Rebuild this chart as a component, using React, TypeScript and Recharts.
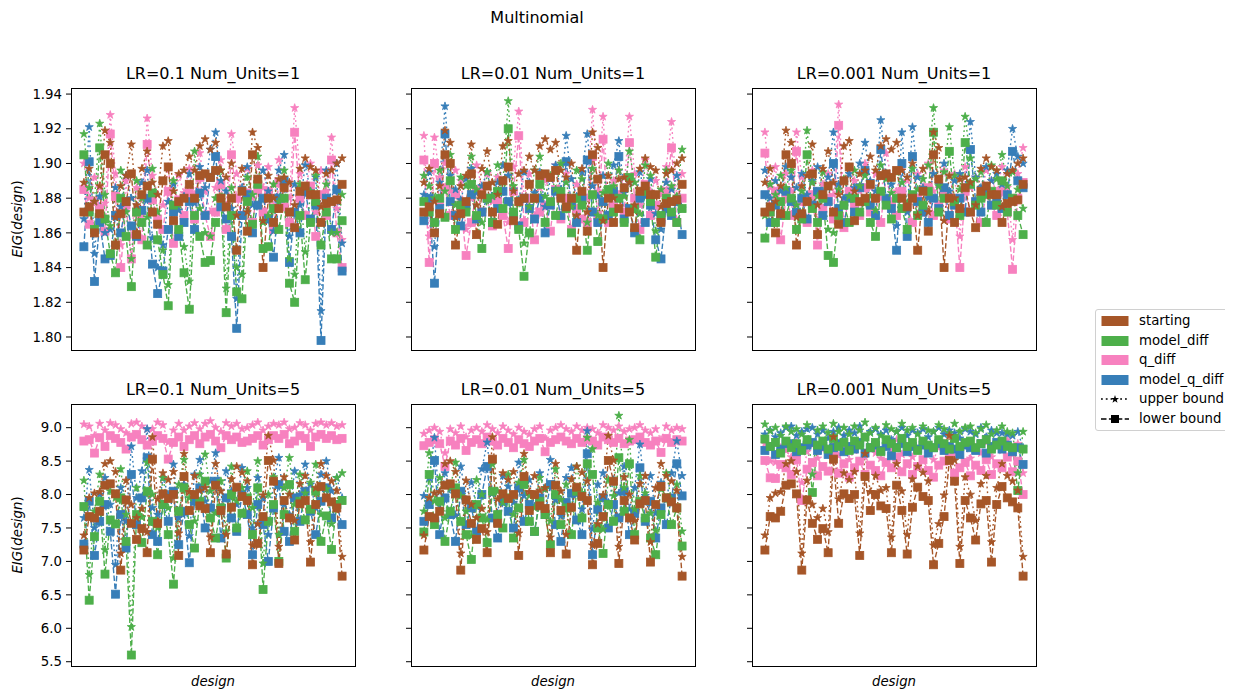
import React from "react"
import { LineChart, Line, XAxis, YAxis } from "recharts"

// design index 0..49
const designs = [
  0, 1, 2, 3, 4, 5, 6, 7, 8, 9, 10, 11, 12, 13, 14, 15, 16, 17, 18, 19, 20, 21, 22, 23, 24,
  25, 26, 27, 28, 29, 30, 31, 32, 33, 34, 35, 36, 37, 38, 39, 40, 41, 42, 43, 44, 45, 46, 47, 48, 49,
]

const methods = ["starting", "model_diff", "q_diff", "model_q_diff"]
const drawOrder = ["q_diff", "model_q_diff", "model_diff", "starting"]
const colors: Record<string, string> = {
  starting: "#a65628",
  model_diff: "#4daf4a",
  q_diff: "#f781bf",
  model_q_diff: "#377eb8",
}

// ---- Num_Units=1 row ----
const startLo1 = [
  1.872, 1.875, 1.860, 1.871, 1.905, 1.900, 1.853, 1.871, 1.878, 1.894,
  1.859, 1.882, 1.887, 1.872, 1.865, 1.890, 1.898, 1.867, 1.878, 1.880,
  1.888, 1.880, 1.893, 1.894, 1.892, 1.896, 1.880, 1.875, 1.880, 1.850,
  1.884, 1.861, 1.905, 1.891, 1.840, 1.880, 1.866, 1.874, 1.886, 1.872,
  1.863, 1.884, 1.887, 1.882, 1.882, 1.866, 1.877, 1.878, 1.879, 1.888,
]
const startHi1 = [
  1.889, 1.897, 1.878, 1.887, 1.919, 1.912, 1.869, 1.887, 1.893, 1.911,
  1.876, 1.897, 1.907, 1.889, 1.882, 1.910, 1.913, 1.884, 1.894, 1.896,
  1.904, 1.896, 1.910, 1.914, 1.908, 1.912, 1.896, 1.892, 1.900, 1.870,
  1.897, 1.872, 1.918, 1.909, 1.867, 1.893, 1.880, 1.891, 1.892, 1.889,
  1.876, 1.897, 1.903, 1.898, 1.896, 1.875, 1.894, 1.896, 1.900, 1.903,
]

// LR=0.1
const tlMdLo = [
  1.905, 1.872, 1.862, 1.909, 1.868, 1.848, 1.837, 1.880, 1.858, 1.829,
  1.872, 1.866, 1.853, 1.883, 1.856, 1.836, 1.818, 1.876, 1.862, 1.837,
  1.816, 1.870, 1.858, 1.843, 1.844, 1.866, 1.880, 1.814, 1.870, 1.826,
  1.822, 1.878, 1.865, 1.888, 1.851, 1.852, 1.874, 1.862, 1.880, 1.831,
  1.820, 1.870, 1.833, 1.866, 1.878, 1.853, 1.872, 1.845, 1.845, 1.867,
]
const tlMdHi = [
  1.917, 1.886, 1.878, 1.923, 1.882, 1.864, 1.852, 1.896, 1.872, 1.845,
  1.890, 1.880, 1.869, 1.897, 1.872, 1.850, 1.830, 1.890, 1.876, 1.852,
  1.832, 1.907, 1.874, 1.860, 1.858, 1.880, 1.896, 1.828, 1.886, 1.840,
  1.836, 1.892, 1.882, 1.904, 1.866, 1.870, 1.888, 1.878, 1.896, 1.845,
  1.836, 1.888, 1.849, 1.884, 1.893, 1.866, 1.888, 1.860, 1.860, 1.882,
]
const tlQdLo = [
  1.885, 1.865, 1.878, 1.874, 1.861, 1.917, 1.881, 1.840, 1.876, 1.845,
  1.872, 1.856, 1.911, 1.879, 1.868, 1.862, 1.884, 1.854, 1.879, 1.870,
  1.883, 1.868, 1.892, 1.870, 1.858, 1.872, 1.888, 1.862, 1.905, 1.880,
  1.870, 1.883, 1.866, 1.885, 1.872, 1.884, 1.862, 1.889, 1.875, 1.866,
  1.918, 1.880, 1.870, 1.887, 1.858, 1.882, 1.870, 1.902, 1.860, 1.840,
]
const tlQdHi = [
  1.900, 1.880, 1.892, 1.886, 1.877, 1.928, 1.894, 1.853, 1.890, 1.858,
  1.886, 1.870, 1.926, 1.893, 1.882, 1.876, 1.898, 1.868, 1.893, 1.883,
  1.897, 1.882, 1.906, 1.884, 1.872, 1.886, 1.902, 1.876, 1.917, 1.894,
  1.884, 1.897, 1.880, 1.899, 1.886, 1.898, 1.876, 1.902, 1.889, 1.880,
  1.932, 1.894, 1.884, 1.900, 1.872, 1.896, 1.884, 1.915, 1.874, 1.856,
]
const tlMqLo = [
  1.852, 1.901, 1.832, 1.866, 1.845, 1.847, 1.870, 1.860, 1.878, 1.864,
  1.858, 1.873, 1.880, 1.842, 1.825, 1.838, 1.862, 1.872, 1.858, 1.866,
  1.878, 1.862, 1.883, 1.870, 1.892, 1.904, 1.875, 1.868, 1.858, 1.805,
  1.870, 1.882, 1.860, 1.876, 1.880, 1.868, 1.846, 1.880, 1.890, 1.843,
  1.872, 1.860, 1.884, 1.868, 1.876, 1.798, 1.880, 1.862, 1.885, 1.838,
]
const tlMqHi = [
  1.868, 1.921, 1.848, 1.881, 1.860, 1.862, 1.886, 1.875, 1.893, 1.880,
  1.873, 1.889, 1.896, 1.857, 1.840, 1.853, 1.878, 1.888, 1.873, 1.881,
  1.894, 1.877, 1.898, 1.886, 1.908, 1.918, 1.890, 1.884, 1.874, 1.822,
  1.886, 1.898, 1.876, 1.891, 1.896, 1.884, 1.861, 1.896, 1.905, 1.858,
  1.888, 1.876, 1.899, 1.884, 1.892, 1.815, 1.896, 1.878, 1.900, 1.854,
]

// LR=0.01
const tmMdLo = [
  1.878, 1.872, 1.866, 1.880, 1.869, 1.890, 1.862, 1.876, 1.872, 1.888,
  1.870, 1.851, 1.880, 1.866, 1.884, 1.874, 1.920, 1.872, 1.862, 1.835,
  1.860, 1.880, 1.888, 1.866, 1.878, 1.870, 1.884, 1.874, 1.860, 1.880,
  1.876, 1.850, 1.882, 1.855, 1.868, 1.885, 1.872, 1.880, 1.866, 1.892,
  1.874, 1.856, 1.884, 1.878, 1.846, 1.870, 1.880, 1.872, 1.866, 1.874,
]
const tmMdHi = [
  1.893, 1.887, 1.880, 1.896, 1.884, 1.905, 1.876, 1.892, 1.887, 1.904,
  1.885, 1.866, 1.895, 1.881, 1.899, 1.889, 1.936, 1.887, 1.877, 1.854,
  1.875, 1.896, 1.904, 1.881, 1.893, 1.885, 1.900, 1.889, 1.875, 1.896,
  1.891, 1.866, 1.897, 1.870, 1.883, 1.900, 1.887, 1.896, 1.881, 1.907,
  1.889, 1.871, 1.899, 1.893, 1.861, 1.885, 1.896, 1.887, 1.881, 1.908,
]
const tmQdLo = [
  1.902, 1.843, 1.900, 1.878, 1.886, 1.870, 1.882, 1.876, 1.847, 1.866,
  1.885, 1.872, 1.880, 1.864, 1.878, 1.870, 1.851, 1.884, 1.916, 1.866,
  1.880, 1.856, 1.872, 1.876, 1.861, 1.885, 1.868, 1.880, 1.862, 1.874,
  1.868, 1.866, 1.904, 1.870, 1.914, 1.866, 1.876, 1.882, 1.872, 1.912,
  1.880, 1.862, 1.888, 1.870, 1.876, 1.868, 1.884, 1.909, 1.866, 1.880,
]
const tmQdHi = [
  1.916, 1.858, 1.915, 1.892, 1.900, 1.884, 1.896, 1.890, 1.862, 1.880,
  1.899, 1.886, 1.894, 1.878, 1.892, 1.884, 1.866, 1.898, 1.930, 1.880,
  1.894, 1.870, 1.886, 1.890, 1.876, 1.899, 1.882, 1.894, 1.876, 1.888,
  1.882, 1.880, 1.931, 1.884, 1.927, 1.880, 1.890, 1.896, 1.886, 1.927,
  1.894, 1.876, 1.902, 1.884, 1.890, 1.882, 1.898, 1.924, 1.880, 1.894,
]
const tmMqLo = [
  1.867, 1.880, 1.831, 1.874, 1.917, 1.878, 1.870, 1.864, 1.876, 1.882,
  1.868, 1.872, 1.880, 1.866, 1.874, 1.884, 1.878, 1.870, 1.864, 1.880,
  1.874, 1.868, 1.880, 1.860, 1.876, 1.884, 1.870, 1.901, 1.876, 1.866,
  1.880, 1.902, 1.872, 1.866, 1.878, 1.870, 1.884, 1.904, 1.868, 1.874,
  1.860, 1.880, 1.866, 1.876, 1.856, 1.845, 1.874, 1.870, 1.878, 1.859,
]
const tmMqHi = [
  1.882, 1.895, 1.852, 1.889, 1.933, 1.893, 1.885, 1.879, 1.891, 1.897,
  1.883, 1.887, 1.895, 1.881, 1.889, 1.899, 1.893, 1.885, 1.879, 1.895,
  1.889, 1.883, 1.895, 1.875, 1.891, 1.899, 1.885, 1.916, 1.891, 1.881,
  1.895, 1.917, 1.887, 1.881, 1.893, 1.885, 1.899, 1.913, 1.883, 1.889,
  1.875, 1.895, 1.881, 1.891, 1.871, 1.862, 1.889, 1.885, 1.893, 1.874,
]

// LR=0.001
const trMdLo = [
  1.857, 1.872, 1.866, 1.878, 1.870, 1.880, 1.862, 1.868, 1.905, 1.874,
  1.866, 1.880, 1.847, 1.843, 1.870, 1.876, 1.866, 1.880, 1.872, 1.878,
  1.866, 1.858, 1.884, 1.876, 1.868, 1.880, 1.874, 1.862, 1.882, 1.870,
  1.876, 1.884, 1.918, 1.872, 1.880, 1.907, 1.878, 1.870, 1.912, 1.888,
  1.876, 1.880, 1.866, 1.884, 1.876, 1.890, 1.872, 1.880, 1.870, 1.859,
]
const trMdHi = [
  1.870, 1.888, 1.882, 1.893, 1.886, 1.896, 1.876, 1.884, 1.919, 1.889,
  1.881, 1.895, 1.862, 1.860, 1.885, 1.891, 1.881, 1.896, 1.887, 1.893,
  1.881, 1.873, 1.899, 1.891, 1.883, 1.895, 1.889, 1.877, 1.897, 1.885,
  1.891, 1.899, 1.932, 1.887, 1.895, 1.921, 1.893, 1.885, 1.927, 1.903,
  1.891, 1.895, 1.881, 1.899, 1.891, 1.905, 1.887, 1.895, 1.885, 1.874,
]
const trQdLo = [
  1.906, 1.872, 1.884, 1.856, 1.880, 1.870, 1.907, 1.878, 1.866, 1.882,
  1.853, 1.874, 1.880, 1.868, 1.922, 1.863, 1.884, 1.876, 1.870, 1.886,
  1.872, 1.880, 1.866, 1.893, 1.878, 1.870, 1.884, 1.876, 1.866, 1.880,
  1.872, 1.886, 1.870, 1.876, 1.882, 1.868, 1.880, 1.840, 1.884, 1.872,
  1.878, 1.866, 1.882, 1.876, 1.870, 1.884, 1.872, 1.839, 1.880, 1.889,
]
const trQdHi = [
  1.918, 1.886, 1.898, 1.870, 1.894, 1.884, 1.918, 1.892, 1.880, 1.896,
  1.867, 1.888, 1.894, 1.882, 1.934, 1.877, 1.898, 1.890, 1.884, 1.900,
  1.886, 1.894, 1.880, 1.906, 1.892, 1.884, 1.898, 1.890, 1.880, 1.894,
  1.886, 1.900, 1.884, 1.890, 1.896, 1.882, 1.894, 1.858, 1.898, 1.886,
  1.892, 1.880, 1.896, 1.890, 1.884, 1.898, 1.886, 1.856, 1.894, 1.909,
]
const trMqLo = [
  1.882, 1.866, 1.876, 1.870, 1.884, 1.878, 1.872, 1.880, 1.868, 1.876,
  1.884, 1.870, 1.878, 1.900, 1.874, 1.866, 1.880, 1.872, 1.886, 1.896,
  1.876, 1.870, 1.908, 1.880, 1.874, 1.850, 1.900, 1.858, 1.904, 1.878,
  1.872, 1.866, 1.880, 1.874, 1.886, 1.870, 1.876, 1.880, 1.872, 1.908,
  1.878, 1.872, 1.884, 1.876, 1.880, 1.874, 1.882, 1.907, 1.890, 1.886,
]
const trMqHi = [
  1.896, 1.880, 1.890, 1.884, 1.898, 1.892, 1.886, 1.894, 1.882, 1.890,
  1.898, 1.884, 1.892, 1.918, 1.888, 1.880, 1.894, 1.886, 1.900, 1.912,
  1.890, 1.884, 1.925, 1.894, 1.888, 1.864, 1.918, 1.872, 1.921, 1.892,
  1.886, 1.880, 1.894, 1.888, 1.900, 1.884, 1.890, 1.894, 1.886, 1.924,
  1.892, 1.886, 1.898, 1.890, 1.894, 1.888, 1.896, 1.920, 1.904, 1.900,
]

// ---- Num_Units=5 row ----
const startLo5 = [
  7.17, 7.67, 7.65, 7.75, 8.14, 8.16, 8.01, 6.87, 7.92, 7.57,
  7.33, 7.49, 7.13, 8.53, 7.57, 8.01, 7.94, 8.00, 7.09, 8.27,
  7.76, 8.00, 7.83, 7.79, 7.13, 8.14, 7.76, 7.11, 7.81, 8.11,
  7.97, 7.91, 6.95, 7.27, 7.67, 8.51, 8.20, 6.97, 7.91, 7.65,
  7.32, 7.86, 7.91, 6.99, 7.85, 8.12, 7.95, 7.89, 7.80, 6.78,
]
const startHi5 = [
  7.39, 7.95, 8.02, 8.04, 8.46, 8.50, 8.34, 7.12, 8.21, 7.85,
  7.65, 7.79, 7.44, 8.86, 7.93, 8.32, 8.22, 8.34, 7.42, 8.61,
  8.04, 8.28, 8.06, 8.10, 7.36, 8.46, 8.05, 7.40, 8.23, 8.42,
  8.33, 8.20, 7.24, 7.56, 7.99, 8.88, 8.51, 7.22, 8.26, 8.00,
  7.61, 8.16, 8.28, 7.29, 8.10, 8.46, 8.28, 8.20, 8.06, 7.07,
]

// LR=0.1
const blMdLo = [
  7.82, 6.42, 7.37, 7.90, 6.81, 7.62, 7.56, 7.95, 7.30, 5.60,
  7.70, 7.28, 8.05, 7.60, 7.10, 7.85, 7.40, 6.66, 7.75, 8.10,
  7.55, 7.20, 7.90, 8.20, 7.65, 7.35, 7.80, 7.05, 8.00, 7.50,
  7.72, 7.95, 7.40, 8.10, 6.58, 7.60, 7.85, 7.00, 7.70, 8.15,
  7.45, 7.90, 7.62, 7.78, 8.05, 7.30, 7.68, 7.18, 7.85, 7.91,
]
const blMdHi = [
  8.21, 6.80, 7.75, 8.30, 7.17, 8.05, 7.95, 8.38, 7.70, 6.02,
  8.10, 7.66, 8.48, 8.00, 7.50, 8.25, 7.80, 7.05, 8.15, 8.52,
  7.95, 7.60, 8.30, 8.60, 8.05, 7.72, 8.20, 7.45, 8.42, 7.90,
  8.10, 8.35, 7.80, 8.50, 6.97, 8.00, 8.26, 7.40, 8.10, 8.55,
  7.85, 8.30, 8.02, 8.18, 8.45, 7.70, 8.08, 7.56, 8.25, 8.32,
]
const blQdLo = [
  8.80, 8.82, 8.62, 8.85, 8.72, 8.88, 8.84, 8.78, 8.68, 8.86,
  8.90, 8.82, 8.74, 8.80, 8.88, 8.84, 8.53, 8.78, 8.86, 8.72,
  8.82, 8.88, 8.76, 8.86, 8.90, 8.80, 8.70, 8.88, 8.82, 8.86,
  8.78, 8.80, 8.84, 8.88, 8.74, 8.82, 8.88, 8.84, 8.90, 8.76,
  8.80, 8.88, 8.84, 8.72, 8.86, 8.90, 8.84, 8.88, 8.82, 8.84,
]
const blQdHi = [
  9.05, 9.02, 8.88, 9.06, 8.96, 9.07, 9.04, 8.98, 8.92, 9.06,
  9.08, 9.02, 8.98, 8.98, 9.08, 9.04, 8.78, 8.96, 9.06, 8.96,
  9.02, 9.07, 8.98, 9.06, 9.10, 9.00, 8.94, 9.07, 9.02, 9.06,
  8.98, 9.00, 9.04, 9.08, 8.96, 9.02, 9.06, 9.04, 9.08, 8.98,
  9.00, 9.07, 9.04, 8.96, 9.06, 9.08, 9.04, 9.07, 9.02, 9.04,
]
const blMqLo = [
  7.26, 7.90, 7.09, 7.60, 7.85, 7.45, 6.51, 7.70, 7.20, 8.30,
  7.55, 7.95, 8.55, 7.40, 7.30, 7.85, 7.60, 8.05, 7.25, 7.75,
  6.98, 7.90, 8.10, 7.50, 7.80, 8.20, 7.35, 7.95, 7.65, 7.45,
  8.00, 7.70, 7.10, 7.85, 7.55, 7.00, 7.80, 8.15, 7.45, 7.30,
  7.95, 7.60, 8.05, 7.75, 7.40, 7.90, 8.10, 7.65, 7.85, 7.55,
]
const blMqHi = [
  7.65, 8.37, 7.50, 8.00, 8.25, 7.85, 6.95, 8.10, 7.60, 8.72,
  7.95, 8.35, 8.98, 7.80, 7.70, 8.25, 8.00, 8.45, 7.65, 8.15,
  7.38, 8.30, 8.52, 7.90, 8.20, 8.62, 7.75, 8.35, 8.05, 7.85,
  8.40, 8.10, 7.50, 8.25, 7.95, 7.40, 8.20, 8.55, 7.85, 7.70,
  8.35, 8.00, 8.45, 8.15, 7.80, 8.30, 8.50, 8.05, 8.25, 7.95,
]

// LR=0.01
const bmMdLo = [
  7.44, 8.30, 7.55, 7.90, 7.30, 7.75, 8.10, 7.60, 7.40, 7.03,
  7.85, 7.65, 7.28, 8.05, 7.70, 7.50, 7.95, 7.35, 7.80, 8.15,
  7.60, 7.45, 7.90, 7.70, 7.25, 8.00, 7.55, 7.80, 7.40, 8.05,
  7.65, 8.46, 8.30, 7.50, 7.12, 7.85, 7.60, 8.55, 7.75, 8.46,
  7.40, 7.90, 7.65, 7.35, 7.10, 7.70, 7.95, 7.55, 7.80, 7.23,
]
const bmMdHi = [
  7.75, 8.62, 7.90, 8.25, 7.65, 8.10, 8.48, 7.98, 7.75, 7.38,
  8.22, 8.00, 7.62, 8.45, 8.05, 7.88, 8.30, 7.70, 8.18, 8.52,
  7.98, 7.80, 8.25, 8.08, 7.60, 8.38, 7.92, 8.15, 7.78, 8.42,
  8.02, 8.85, 8.68, 7.88, 7.48, 8.22, 7.98, 9.18, 8.10, 8.82,
  7.78, 8.28, 8.02, 7.72, 7.46, 8.08, 8.32, 7.92, 8.15, 7.45,
]
const bmQdLo = [
  8.73, 8.78, 8.82, 8.76, 8.42, 8.80, 8.74, 8.84, 8.66, 8.78,
  8.82, 8.76, 8.86, 8.80, 8.74, 8.84, 8.78, 8.70, 8.82, 8.76,
  8.72, 8.80, 8.84, 8.64, 8.78, 8.82, 8.86, 8.80, 8.76, 8.84,
  8.78, 8.82, 8.80, 8.74, 8.86, 8.82, 8.78, 8.84, 8.76, 8.80,
  8.82, 8.86, 8.78, 8.74, 8.80, 8.63, 8.84, 8.78, 8.82, 8.80,
]
const bmQdHi = [
  8.91, 8.96, 9.00, 8.94, 8.62, 8.98, 8.92, 9.02, 8.86, 8.96,
  9.00, 8.94, 9.04, 8.98, 8.92, 9.02, 8.96, 8.90, 9.00, 8.94,
  8.90, 8.98, 9.02, 8.84, 8.96, 9.00, 9.04, 8.98, 8.94, 9.02,
  8.96, 9.00, 8.98, 8.92, 9.04, 9.00, 8.96, 9.02, 8.94, 8.98,
  9.00, 9.04, 8.96, 8.92, 8.98, 8.82, 9.02, 8.96, 9.00, 8.98,
]
const bmMqLo = [
  7.60, 7.85, 8.51, 7.40, 7.95, 7.70, 7.30, 8.05, 7.55, 7.80,
  7.45, 8.00, 8.42, 7.65, 7.35, 7.90, 7.75, 7.50, 8.10, 7.60,
  7.85, 7.45, 7.95, 7.70, 8.15, 7.55, 7.30, 7.88, 8.02, 7.62,
  7.40, 8.61, 7.10, 7.78, 7.95, 7.50, 7.85, 7.65, 8.05, 7.40,
  7.72, 8.40, 7.60, 7.90, 7.35, 7.80, 7.55, 7.95, 8.46, 7.98,
]
const bmMqHi = [
  7.98, 8.25, 8.85, 7.78, 8.32, 8.08, 7.68, 8.42, 7.92, 8.18,
  7.82, 8.38, 8.78, 8.02, 7.72, 8.28, 8.12, 7.88, 8.48, 7.98,
  8.22, 7.82, 8.32, 8.08, 8.52, 7.92, 7.68, 8.25, 8.40, 8.00,
  7.78, 8.95, 7.48, 8.15, 8.32, 7.88, 8.22, 8.02, 8.42, 7.78,
  8.10, 8.75, 7.98, 8.28, 7.72, 8.18, 7.92, 8.32, 8.80, 8.28,
]

// LR=0.001
const brMdLo = [
  8.83, 8.72, 8.78, 8.62, 8.80, 8.70, 8.76, 8.66, 8.82, 8.03,
  8.74, 8.80, 8.68, 8.84, 8.72, 8.78, 8.66, 8.80, 8.74, 8.86,
  8.70, 8.78, 8.64, 8.82, 8.76, 8.70, 8.84, 8.72, 8.78, 8.66,
  8.80, 8.74, 8.70, 8.82, 8.76, 8.68, 8.84, 8.72, 8.78, 8.80,
  8.70, 8.76, 8.82, 8.68, 8.74, 8.80, 8.72, 8.70, 8.06, 8.68,
]
const brMdHi = [
  9.05, 8.95, 9.00, 8.88, 9.02, 8.94, 8.98, 8.90, 9.04, 8.30,
  8.96, 9.02, 8.92, 9.06, 8.94, 9.00, 8.90, 9.02, 8.96, 9.08,
  8.92, 9.00, 8.88, 9.04, 8.98, 8.94, 9.06, 8.96, 9.00, 8.90,
  9.02, 8.96, 8.94, 9.04, 8.98, 8.92, 9.06, 8.94, 9.00, 9.02,
  8.92, 8.98, 9.04, 8.90, 8.96, 9.02, 8.94, 8.92, 8.32, 8.94,
]
const brQdLo = [
  8.51, 8.25, 8.24, 8.45, 8.40, 8.30, 8.52, 7.91, 8.38, 8.48,
  8.28, 8.42, 8.35, 8.60, 8.32, 8.46, 8.26, 8.40, 8.50, 8.30,
  8.44, 8.36, 8.28, 8.48, 8.40, 8.56, 8.34, 8.46, 8.30, 8.42,
  8.52, 8.36, 8.26, 8.44, 8.50, 8.62, 8.32, 8.40, 8.48, 8.28,
  8.44, 8.36, 8.52, 8.30, 8.46, 8.40, 8.56, 8.34, 8.50, 8.00,
]
const brQdHi = [
  8.76, 8.50, 8.48, 8.70, 8.66, 8.56, 8.78, 8.18, 8.64, 8.74,
  8.54, 8.68, 8.60, 8.86, 8.58, 8.72, 8.52, 8.66, 8.76, 8.56,
  8.70, 8.62, 8.54, 8.74, 8.66, 8.82, 8.60, 8.72, 8.56, 8.68,
  8.78, 8.62, 8.52, 8.70, 8.76, 8.88, 8.58, 8.66, 8.74, 8.54,
  8.70, 8.62, 8.78, 8.56, 8.72, 8.66, 8.82, 8.60, 8.76, 8.32,
]
const brMqLo = [
  8.66, 8.72, 8.60, 8.68, 8.76, 8.76, 8.64, 8.70, 8.74, 8.78,
  8.66, 8.72, 8.60, 8.70, 8.76, 8.64, 8.72, 8.68, 8.78, 8.62,
  8.70, 8.74, 8.66, 8.72, 8.58, 8.70, 8.76, 8.64, 8.72, 8.68,
  8.74, 8.62, 8.70, 8.76, 8.66, 8.72, 8.68, 8.60, 8.74, 8.70,
  8.66, 8.76, 8.62, 8.72, 8.78, 8.68, 8.74, 8.64, 8.70, 8.45,
]
const brMqHi = [
  8.90, 8.96, 8.86, 8.92, 9.00, 9.02, 8.88, 8.94, 8.98, 9.00,
  8.90, 8.96, 8.84, 8.94, 9.00, 8.88, 8.96, 8.92, 9.02, 8.86,
  8.94, 8.98, 8.90, 8.96, 8.82, 8.94, 9.00, 8.88, 8.96, 8.92,
  8.98, 8.86, 8.94, 9.00, 8.90, 8.96, 8.92, 8.84, 8.98, 8.94,
  8.90, 9.00, 8.86, 8.96, 8.92, 8.92, 8.90, 8.88, 8.94, 8.70,
]

const ticksU1 = [1.8, 1.82, 1.84, 1.86, 1.88, 1.9, 1.92, 1.94]
const ticksU5 = [5.5, 6.0, 6.5, 7.0, 7.5, 8.0, 8.5, 9.0]

type Series = Record<string, number[]>
interface PanelDef {
  title: string
  row: number
  col: number
  lo: Series
  hi: Series
}

const panels: PanelDef[] = [
  {
    title: "LR=0.1 Num_Units=1", row: 0, col: 0,
    lo: { starting: startLo1, model_diff: tlMdLo, q_diff: tlQdLo, model_q_diff: tlMqLo },
    hi: { starting: startHi1, model_diff: tlMdHi, q_diff: tlQdHi, model_q_diff: tlMqHi },
  },
  {
    title: "LR=0.01 Num_Units=1", row: 0, col: 1,
    lo: { starting: startLo1, model_diff: tmMdLo, q_diff: tmQdLo, model_q_diff: tmMqLo },
    hi: { starting: startHi1, model_diff: tmMdHi, q_diff: tmQdHi, model_q_diff: tmMqHi },
  },
  {
    title: "LR=0.001 Num_Units=1", row: 0, col: 2,
    lo: { starting: startLo1, model_diff: trMdLo, q_diff: trQdLo, model_q_diff: trMqLo },
    hi: { starting: startHi1, model_diff: trMdHi, q_diff: trQdHi, model_q_diff: trMqHi },
  },
  {
    title: "LR=0.1 Num_Units=5", row: 1, col: 0,
    lo: { starting: startLo5, model_diff: blMdLo, q_diff: blQdLo, model_q_diff: blMqLo },
    hi: { starting: startHi5, model_diff: blMdHi, q_diff: blQdHi, model_q_diff: blMqHi },
  },
  {
    title: "LR=0.01 Num_Units=5", row: 1, col: 1,
    lo: { starting: startLo5, model_diff: bmMdLo, q_diff: bmQdLo, model_q_diff: bmMqLo },
    hi: { starting: startHi5, model_diff: bmMdHi, q_diff: bmQdHi, model_q_diff: bmMqHi },
  },
  {
    title: "LR=0.001 Num_Units=5", row: 1, col: 2,
    lo: { starting: startLo5, model_diff: brMdLo, q_diff: brQdLo, model_q_diff: brMqLo },
    hi: { starting: startHi5, model_diff: brMdHi, q_diff: brQdHi, model_q_diff: brMqHi },
  },
]

// layout
const COL_LEFT = [71, 411, 752]
const ROW_TOP = [88, 404]
const AX_W = 284
const AX_H = 262
const YW = 60
const PAD = 12
const FONT = "DejaVu Sans, sans-serif"

function starPath(cx: number, cy: number, R: number) {
  const r = R * 0.382
  let d = ""
  for (let k = 0; k < 10; k++) {
    const a = -Math.PI / 2 + (k * Math.PI) / 5
    const rad = k % 2 === 0 ? R : r
    d += (k ? "L" : "M") + (cx + rad * Math.cos(a)).toFixed(2) + "," + (cy + rad * Math.sin(a)).toFixed(2)
  }
  return d + "Z"
}

const starDot = (color: string) => (props: any) => {
  const { cx, cy, index } = props
  if (cx == null || cy == null) return <g key={`s${index}`} />
  return <path key={`s${index}`} d={starPath(cx, cy, 4.3)} fill={color} stroke={color} strokeWidth={0.8} />
}

const squareDot = (color: string) => (props: any) => {
  const { cx, cy, index } = props
  if (cx == null || cy == null) return <g key={`q${index}`} />
  return <rect key={`q${index}`} x={cx - 4} y={cy - 4} width={8} height={8} fill={color} stroke={color} strokeWidth={0.8} />
}

function Panel({ p }: { p: PanelDef }) {
  const left = COL_LEFT[p.col]
  const top = ROW_TOP[p.row]
  const unitsOne = p.row === 0
  const rows = designs.map((d, i) => {
    const r: Record<string, number> = { x: d }
    methods.forEach((m) => {
      r[m + "_lo"] = p.lo[m][i]
      r[m + "_hi"] = p.hi[m][i]
    })
    return r
  })

  const lines = drawOrder.flatMap((m) => [
    <Line
      key={m + "_hi"}
      type="linear"
      dataKey={m + "_hi"}
      stroke={colors[m]}
      strokeWidth={1.4}
      strokeDasharray="1.8 3"
      dot={starDot(colors[m])}
      activeDot={false}
      isAnimationActive={false}
    />,
    <Line
      key={m + "_lo"}
      type="linear"
      dataKey={m + "_lo"}
      stroke={colors[m]}
      strokeWidth={1.4}
      strokeDasharray="5.5 2.4"
      dot={squareDot(colors[m])}
      activeDot={false}
      isAnimationActive={false}
    />,
  ])

  return (
    <>
      <div style={{ position: "absolute", left: left - YW, top: top - PAD, width: AX_W + YW, height: AX_H + 2 * PAD }}>
        <LineChart
          width={AX_W + YW}
          height={AX_H + 2 * PAD}
          data={rows}
          margin={{ top: PAD, right: 0, bottom: PAD, left: 0 }}
        >
          <XAxis dataKey="x" type="number" domain={[-2.45, 51.45]} hide />
          <YAxis
            type="number"
            domain={unitsOne ? [1.7925, 1.9435] : [5.436, 9.354]}
            ticks={unitsOne ? ticksU1 : ticksU5}
            interval={0}
            width={YW}
            axisLine={false}
            tickLine={{ stroke: "#000", strokeWidth: 1 }}
            tickSize={5}
            tickMargin={4}
            tick={{ fontSize: 13.3, fill: "#000", fontFamily: FONT }}
            tickFormatter={(v: number) => (p.col > 0 ? "" : unitsOne ? v.toFixed(2) : v.toFixed(1))}
          />
          {lines}
        </LineChart>
      </div>
      <div
        style={{
          position: "absolute",
          left: left - 0.5,
          top: top - 0.5,
          width: AX_W + 1,
          height: AX_H + 1,
          border: "1px solid #000",
          boxSizing: "border-box",
          pointerEvents: "none",
        }}
      />
      <Text x={left + AX_W / 2} y={top - 14} size={16}>
        {p.title}
      </Text>
    </>
  )
}

function Text({ x, y, size, rotate, children }: { x: number; y: number; size: number; rotate?: boolean; children: React.ReactNode }) {
  return (
    <div
      style={{
        position: "absolute",
        left: x,
        top: y,
        transform: `translate(-50%, -50%)${rotate ? " rotate(-90deg)" : ""}`,
        fontSize: size,
        fontFamily: FONT,
        whiteSpace: "nowrap",
        color: "#000",
        lineHeight: 1,
      }}
    >
      {children}
    </div>
  )
}

const eigLabel = (
  <span>
    <i>EIG</i>(<i>design</i>)
  </span>
)

const legendItems = [
  { label: "starting", kind: "patch", color: colors.starting },
  { label: "model_diff", kind: "patch", color: colors.model_diff },
  { label: "q_diff", kind: "patch", color: colors.q_diff },
  { label: "model_q_diff", kind: "patch", color: colors.model_q_diff },
  { label: "upper bound", kind: "upper", color: "#000" },
  { label: "lower bound", kind: "lower", color: "#000" },
]

function Legend() {
  return (
    <div
      style={{
        position: "absolute",
        left: 1095,
        top: 309,
        width: 133,
        height: 122,
        border: "1px solid #d0d0d0",
        borderRadius: 3,
        boxSizing: "border-box",
        background: "rgba(255,255,255,0.8)",
      }}
    >
      {legendItems.map((it, i) => {
        const cy = 11 + i * 19.6
        return (
          <React.Fragment key={it.label}>
            <svg style={{ position: "absolute", left: 5, top: cy - 7 }} width={28} height={14}>
              {it.kind === "patch" && <rect x={0.5} y={2} width={27} height={10} fill={it.color} />}
              {it.kind === "upper" && (
                <>
                  <line x1={0} y1={7} x2={28} y2={7} stroke="#000" strokeWidth={1.4} strokeDasharray="1.8 3" />
                  <path d={starPath(14, 7.3, 4.3)} fill="#000" />
                </>
              )}
              {it.kind === "lower" && (
                <>
                  <line x1={0} y1={7} x2={28} y2={7} stroke="#000" strokeWidth={1.4} strokeDasharray="5.5 2.4" />
                  <rect x={10} y={3} width={8} height={8} fill="#000" />
                </>
              )}
            </svg>
            <div
              style={{
                position: "absolute",
                left: 43,
                top: cy,
                transform: "translateY(-50%)",
                fontSize: 13.3,
                fontFamily: FONT,
                whiteSpace: "nowrap",
                lineHeight: 1,
              }}
            >
              {it.label}
            </div>
          </React.Fragment>
        )
      })}
    </div>
  )
}

export default function App() {
  return (
    <div style={{ position: "relative", width: 1233, height: 694, margin: "-8px 0 0 -8px", background: "#fff", overflow: "hidden" }}>
      <Text x={537} y={18} size={16}>
        Multinomial
      </Text>
      {panels.map((p) => (
        <Panel key={p.title} p={p} />
      ))}
      <Text x={18} y={ROW_TOP[0] + AX_H / 2} size={13.3} rotate>
        {eigLabel}
      </Text>
      <Text x={18} y={ROW_TOP[1] + AX_H / 2} size={13.3} rotate>
        {eigLabel}
      </Text>
      {COL_LEFT.map((l) => (
        <Text key={l} x={l + AX_W / 2} y={682} size={13.3}>
          <i>design</i>
        </Text>
      ))}
      <Legend />
    </div>
  )
}
